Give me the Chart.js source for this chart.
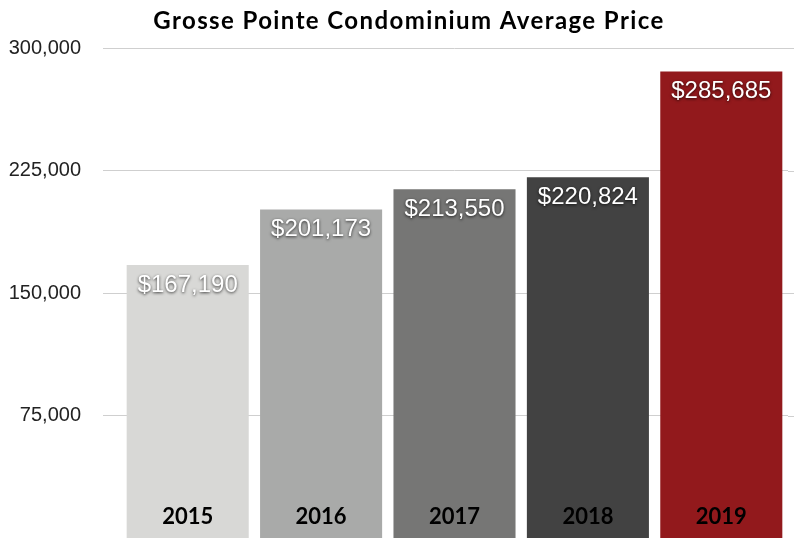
<!DOCTYPE html>
<html>
<head>
<meta charset="utf-8">
<script src="https://cdn.jsdelivr.net/npm/chart.js@4/dist/chart.umd.min.js"></script>
<style>
  html, body { margin: 0; padding: 0; background: #fff; overflow: hidden; }
  canvas { display: block; }
</style>
</head>
<body>
<canvas id="priceChart" width="794" height="538"></canvas>
<script>
// chart data
const years = ['2015', '2016', '2017', '2018', '2019'];
const avgPrice = [167190, 201173, 213550, 220824, 285685];
const barColors = ['#d8d8d6', '#a9aaa9', '#767675', '#424242', '#92191c'];
const yTicks = [75000, 150000, 225000, 300000];
const chartTitle = 'Grosse Pointe Condominium Average Price';

const humanist = 'Lato, "Open Sans", sans-serif';
const helv = '"Liberation Sans", Arial, sans-serif';

// title, value labels and year labels drawn over the bars
const overlayPlugin = {
  id: 'overlay',
  afterDatasetsDraw(chart) {
    const ctx = chart.ctx;
    const area = chart.chartArea;
    const x = chart.scales.x;
    const meta = chart.getDatasetMeta(0);

    ctx.save();
    // extend grid lines to the right edge
    ctx.strokeStyle = '#cfcfcf';
    ctx.lineWidth = 1;
    yTicks.forEach(v => {
      const py = Math.round(chart.scales.y.getPixelForValue(v)) + 0.5;
      ctx.beginPath();
      ctx.moveTo(area.right, py);
      ctx.lineTo(chart.width, py);
      ctx.stroke();
    });

    // title
    ctx.fillStyle = '#000';
    ctx.font = 'bold 24px ' + humanist;
    ctx.letterSpacing = '1.4px';
    ctx.textAlign = 'center';
    ctx.textBaseline = 'alphabetic';
    ctx.fillText(chartTitle, 409, 29);
    ctx.letterSpacing = '0px';

    // value labels
    ctx.font = '24px ' + helv;
    ctx.textBaseline = 'middle';
    meta.data.forEach((bar, i) => {
      ctx.save();
      ctx.shadowColor = 'rgba(0,0,0,0.75)';
      ctx.shadowBlur = 3;
      ctx.shadowOffsetX = 0;
      ctx.shadowOffsetY = 1;
      ctx.fillStyle = '#fff';
      ctx.fillText('$' + avgPrice[i].toLocaleString('en-US'), bar.x, bar.y + 20);
      ctx.restore();
    });

    // year labels
    ctx.font = 'bold 22px ' + humanist;
    ctx.fillStyle = '#000';
    years.forEach((yr, i) => {
      ctx.fillText(yr, x.getPixelForValue(i), area.bottom - 21);
    });
    ctx.restore();
  }
};

new Chart(document.getElementById('priceChart'), {
  type: 'bar',
  data: {
    labels: years,
    datasets: [{
      data: avgPrice,
      backgroundColor: barColors,
      borderWidth: 0,
      barPercentage: 0.915,
      categoryPercentage: 1
    }]
  },
  options: {
    responsive: false,
    animation: false,
    layout: { padding: { top: 48, right: 6, bottom: 0, left: 0 } },
    plugins: {
      legend: { display: false },
      title: { display: false },
      tooltip: { enabled: false }
    },
    scales: {
      x: { display: false },
      y: {
        min: 0,
        max: 300000,
        afterFit(scale) {
          scale.width = 121;
          scale.paddingTop = 0;
          scale.paddingBottom = 0;
        },
        afterBuildTicks(scale) {
          scale.ticks = yTicks.map(v => ({ value: v }));
        },
        border: { display: false },
        grid: { color: '#cfcfcf', tickLength: 18, drawTicks: true },
        ticks: {
          padding: 22,
          color: '#222',
          font: { family: helv, size: 20 },
          callback: v => v.toLocaleString('en-US')
        }
      }
    }
  },
  plugins: [overlayPlugin]
});
</script>
</body>
</html>
